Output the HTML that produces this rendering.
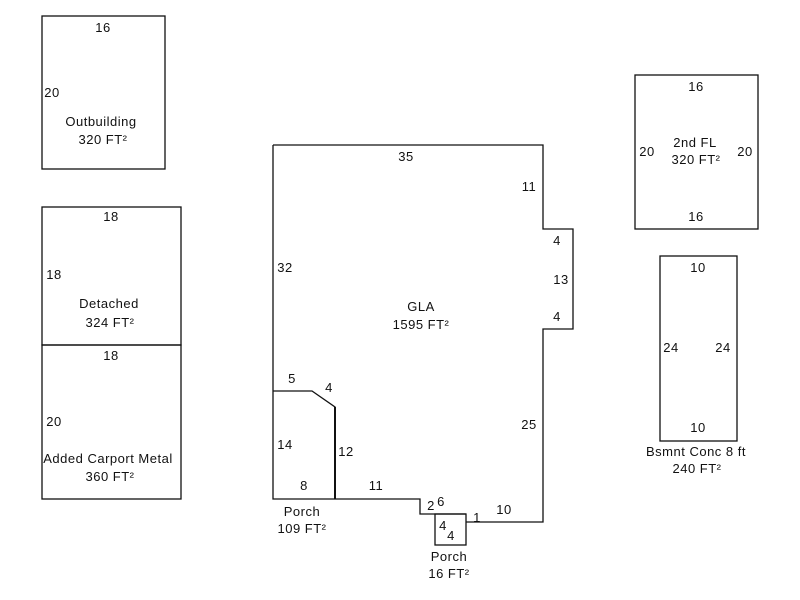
<!DOCTYPE html>
<html><head><meta charset="utf-8"><style>
html,body{margin:0;padding:0;background:#fff;}
svg{display:block;}
text{font-family:"Liberation Sans",Arial,sans-serif;font-size:13px;letter-spacing:0.5px;fill:#111;text-anchor:middle;}
</style></head><body>
<svg width="800" height="600" viewBox="0 0 800 600" xmlns="http://www.w3.org/2000/svg">
<g fill="none" stroke="#111" stroke-width="1.3">
<rect x="42" y="16" width="123" height="153"/>
<rect x="42" y="207" width="139" height="138"/>
<rect x="42" y="345" width="139" height="154"/>
<rect x="635" y="75" width="123" height="154"/>
<rect x="660" y="256" width="77" height="185"/>
<polyline points="273,145 543,145 543,229 573,229 573,329 543,329 543,522 466,522"/>
<polyline points="273,145 273,499 335,499 420,499 420,514 466,514"/>
<polyline points="273,391 312,391 335,407 335,499"/>
<rect x="435" y="514" width="31" height="31"/>
</g>
<line x1="335" y1="407" x2="335" y2="499" stroke="#111" stroke-width="2"/>
<text x="103" y="32">16</text>
<text x="52" y="97">20</text>
<text x="101" y="126">Outbuilding</text>
<text x="103" y="144">320 FT²</text>
<text x="111" y="221">18</text>
<text x="54" y="279">18</text>
<text x="109" y="308">Detached</text>
<text x="110" y="327">324 FT²</text>
<text x="111" y="360">18</text>
<text x="54" y="426">20</text>
<text x="108" y="463">Added Carport Metal</text>
<text x="110" y="481">360 FT²</text>
<text x="406" y="161">35</text>
<text x="529" y="191">11</text>
<text x="557" y="245">4</text>
<text x="561" y="284">13</text>
<text x="557" y="321">4</text>
<text x="285" y="272">32</text>
<text x="421" y="311">GLA</text>
<text x="421" y="329">1595 FT²</text>
<text x="529" y="429">25</text>
<text x="292" y="383">5</text>
<text x="329" y="392">4</text>
<text x="285" y="449">14</text>
<text x="346" y="456">12</text>
<text x="304" y="490">8</text>
<text x="376" y="490">11</text>
<text x="431" y="510">2</text>
<text x="441" y="506">6</text>
<text x="443" y="530">4</text>
<text x="451" y="540">4</text>
<text x="477" y="522">1</text>
<text x="504" y="514">10</text>
<text x="302" y="516">Porch</text>
<text x="302" y="533">109 FT²</text>
<text x="449" y="561">Porch</text>
<text x="449" y="578">16 FT²</text>
<text x="696" y="91">16</text>
<text x="647" y="156">20</text>
<text x="695" y="147">2nd FL</text>
<text x="696" y="164">320 FT²</text>
<text x="745" y="156">20</text>
<text x="696" y="221">16</text>
<text x="698" y="272">10</text>
<text x="671" y="352">24</text>
<text x="723" y="352">24</text>
<text x="698" y="432">10</text>
<text x="696" y="456">Bsmnt Conc 8 ft</text>
<text x="697" y="473">240 FT²</text>
</svg>
</body></html>
